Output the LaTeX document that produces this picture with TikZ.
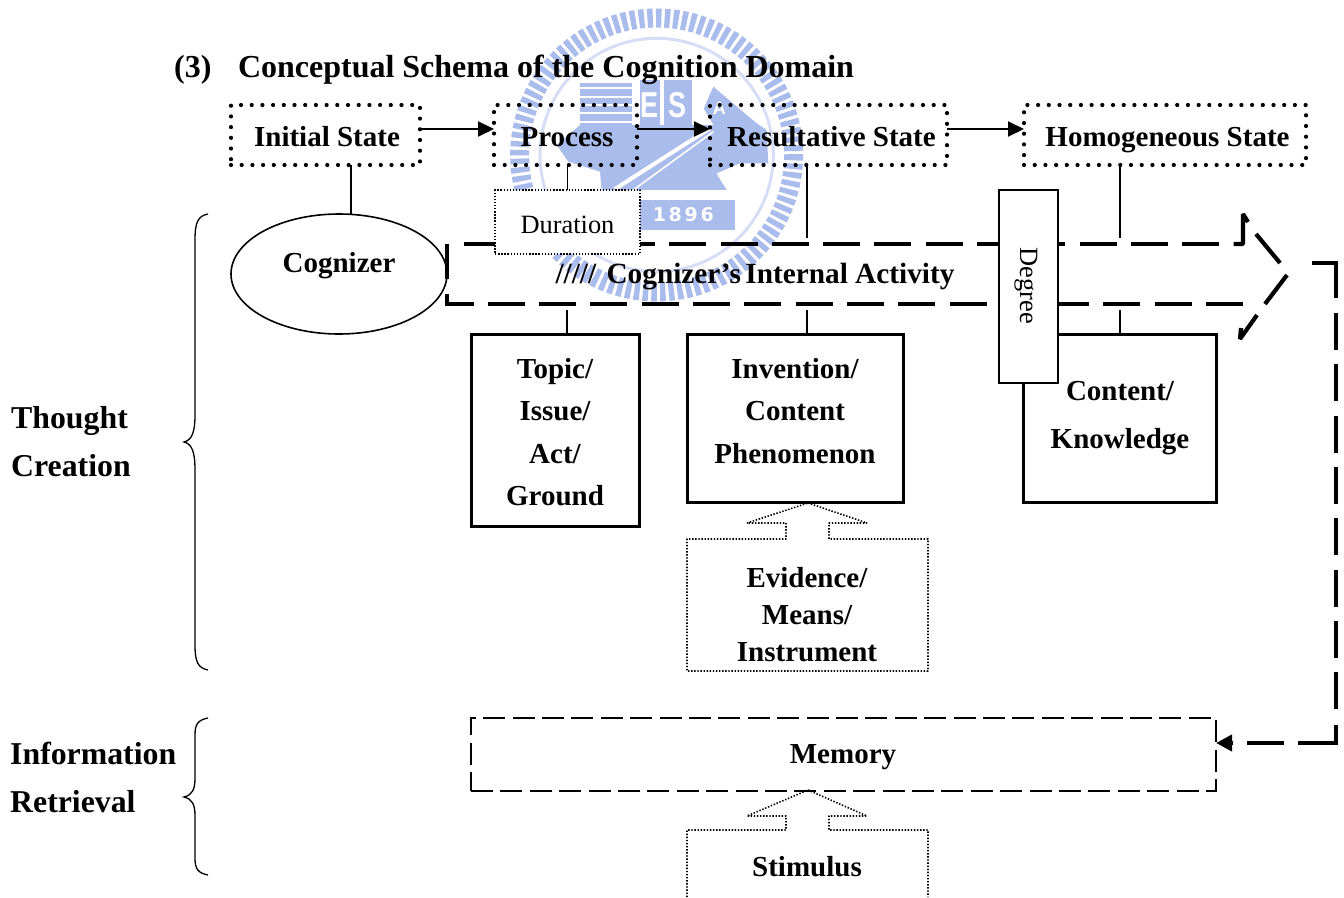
\documentclass[tikz,border=0pt]{standalone}
\usepackage{fontspec}
\setmainfont{Liberation Serif}
\newfontfamily\sealfont[BoldFont={* Bold}]{Liberation Sans}
\newfontfamily\sealdigits[LetterSpace=14]{DejaVu Sans Bold}
\usetikzlibrary{arrows.meta,shapes.geometric}
\definecolor{seal}{RGB}{170,188,236}
\definecolor{seallight}{RGB}{214,222,245}
\tikzset{
  btext/.style={font=\fontsize{29}{42.5}\selectfont\bfseries,inner sep=0pt,align=center},
  bigtext/.style={font=\fontsize{31.8}{48}\selectfont\bfseries,inner sep=0pt,align=left,anchor=west},
  rtext/.style={font=\fontsize{26.4}{30}\selectfont,inner sep=0pt},
  dotbox/.style={draw,line width=4.2pt,dash pattern=on 0pt off 10.7pt,line cap=round,minimum width=#1,minimum height=60pt,inner sep=0pt,outer sep=0pt,text height=22pt,text depth=0pt},
  solidbox/.style={draw,line width=3pt,inner sep=0pt,outer sep=0pt},
  thin dots/.style={line width=1.6pt,dash pattern=on 1.4pt off 1.7pt,line join=bevel},
  thick dash/.style={line width=4.2pt,dash pattern=on 37pt off 14.3pt},
  thick solid/.style={line width=4.2pt,line join=bevel},
  thinline/.style={line width=1.3pt},
  flow/.style={line width=2pt,-{Triangle[length=16pt,width=15pt]}},
}
\begin{document}
\begin{tikzpicture}[x=1pt,y=-1pt]
\useasboundingbox (0,0) rectangle (1344,897);
% watermark seal
\begin{scope}[x=0.3333pt,y=-0.3333pt,shift={(440pt,0pt)}]
  \draw[seal,line width=19pt,dash pattern=on 5.4pt off 3.2pt] (650,465) circle (411);
  \draw[seallight,line width=3pt] (650,465) circle (350);
  \fill[seal] (420,375) -- (350,435) -- (385,485) -- (480,515) -- (485,570) -- (860,570) -- (835,530) -- (830,520) -- (900,490) -- (985,490) -- (980,390) -- (950,370) -- (820,260) -- (770,375) -- cycle;
  \fill[seal] (420,250) rectangle (575,380);
  \foreach \yy in {265,290,315,340,365} \draw[white,line width=2pt] (420,\yy) -- (575,\yy);
  \fill[seal] (575,375) rectangle (775,400);
  \fill[seal] (600,240) rectangle (660,380);
  \fill[seal] (672,240) rectangle (755,380);
  \fill[white] (770,290) -- (820,375) -- (760,375) -- cycle;
  \node[white,font=\sealfont\bfseries\fontsize{36}{36}\selectfont,inner sep=0pt,xscale=.75] (sealE) at (630,315) {E};
  \node[white,font=\sealfont\bfseries\fontsize{36}{36}\selectfont,inner sep=0pt,xscale=.75] (sealS) at (713,315) {S};
  \node[white,font=\sealfont\bfseries\fontsize{18}{18}\selectfont,inner sep=0pt] (sealA) at (838,325) {A};
  \draw[white,line width=4pt] (525,567) -- (810,385);
  \draw[white,line width=1.6pt] (580,570) -- (820,395);
  \fill[seal] (600,600) rectangle (885,690);
  \node[white,font=\sealdigits\fontsize{19}{19}\selectfont,inner sep=0pt] (sealY) at (730,645) {1896};
\end{scope}
% title
\node[bigtext,font=\fontsize{32}{48}\selectfont\bfseries] (title) at (174,70) {(3)\hspace{26.5pt}Conceptual Schema of the Cognition Domain};
% top states
\node[dotbox=189pt,btext] (init) at (325.5,135) {\hspace*{3pt}Initial State};
\node[dotbox=143pt,btext] (proc) at (565.5,135) {\hspace*{3pt}Process};
\node[dotbox=237pt,btext] (res) at (828.5,135) {\hspace*{6pt}Resultative State};
\node[dotbox=282pt,btext] (homo) at (1165,135) {\hspace*{5pt}Homogeneous State};
\draw[flow] ([yshift=6pt]init.east) -- ([yshift=6pt]proc.west);
\draw[flow] ([yshift=6pt]proc.east) -- ([yshift=6pt]res.west);
\draw[flow] ([yshift=6pt]res.east) -- ([yshift=6pt]homo.west);
% cognizer
\node[draw,ellipse,line width=1.6pt,minimum width=216pt,minimum height=120pt,inner sep=0pt,outer sep=0pt] (cog) at (339,274) {};
\node[btext] (cogt) at (339,266) {Cognizer};
% big arrow, drawn piece by piece to keep the dashes where the original has them
\coordinate (ar1) at (464,244);
\coordinate (ar2) at (1230,244);
\coordinate (ar3) at (1233.5,244);
\coordinate (ar4) at (1243,244);
\coordinate (ar5) at (1243,214);
\coordinate (ar6) at (1248,222);
\coordinate (ar7) at (1256,234);
\coordinate (ar8) at (1280,263);
\coordinate (ar9) at (1287,275);
\coordinate (ar10) at (1265,304);
\coordinate (ar11) at (1257,315);
\coordinate (ar12) at (1240,339);
\coordinate (ar13) at (1241,328);
\coordinate (ar14) at (1243,304);
\coordinate (ar15) at (447,304);
\coordinate (ar16) at (447,244);
\draw[thick dash] (ar1) -- (ar2);
\draw[thick solid] (ar3) -- (ar4) -- (ar5) -- (ar6);
\draw[thick solid] (ar7) -- (ar8);
\draw[thick solid] (ar9) -- (ar10);
\draw[thick solid] (ar11) -- (ar12) -- (ar13);
\draw[thick dash] (ar14) -- (ar15) -- (ar16);
\node[btext,font=\fontsize{29.3}{36}\selectfont\bfseries] (act) at (755,277) {/////\hspace{3pt} Cognizer’s\hspace{-3pt} Internal Activity};
% lower boxes
\node[solidbox,minimum width=168pt,minimum height=192pt] (topic) at (555,430) {};
\node[btext] (topict) at (555,432) {Topic/\\Issue/\\Act/\\Ground};
\node[solidbox,minimum width=216pt,minimum height=168pt] (inv) at (795,418) {};
\node[btext] (invt) at (795,411) {Invention/\\Content\\Phenomenon};
\node[solidbox,minimum width=193pt,minimum height=168pt] (cont) at (1119.5,418) {};
\node[btext,font=\fontsize{29}{48}\selectfont\bfseries] (contt) at (1120,418) {Content/\\Knowledge};
% connectors
\coordinate (c0) at (351,214);
\coordinate (a1) at (807,238);
\coordinate (a2) at (1120,238);
\coordinate (b1) at (567,310);
\coordinate (b2) at (807,310);
\coordinate (b3) at (1120,310);
\draw[thinline] (init.south -| c0) -- (c0);
\node[draw,fill=white,thin dots,minimum width=145pt,minimum height=64pt,inner sep=0pt,outer sep=0pt,rtext,text height=22pt,text depth=0pt] (dur) at (567.5,222) {Duration};
\draw[thinline] (proc.south -| dur.north) -- (dur.north);
\draw[thinline] (res.south -| a1) -- (a1);
\draw[thinline] (homo.south -| a2) -- (a2);
\draw[thinline] (b1) -- (topic.north -| b1);
\draw[thinline] (b2) -- (inv.north -| b2);
\draw[thinline] (b3) -- (cont.north -| b3);
\node[draw,fill=white,line width=1.6pt,minimum width=59pt,minimum height=193pt,inner sep=0pt,outer sep=0pt] (deg) at (1028.5,286.5) {};
\node[rtext,rotate=-90] (degt) at (1026,286) {Degree};
% evidence arrow box
\draw[thin dots] (808,503) -- (867,523) -- (829,523) -- (829,539) -- (928,539) -- (928,671) -- (687,671) -- (687,539) -- (786,539) -- (786,523) -- (747,523) -- cycle;
\node[btext,font=\fontsize{29}{37}\selectfont\bfseries] (evid) at (807,615) {Evidence/\\Means/\\Instrument};
% memory
\node[draw,line width=2pt,dash pattern=on 22pt off 7.4pt,minimum width=745pt,minimum height=73pt,inner sep=0pt,outer sep=0pt] (mem) at (843.5,754.5) {};
\node[btext] (memt) at (843,757) {Memory};
% feedback connector
\coordinate (fb1) at (1312,263);
\coordinate (fb2) at (1336,263);
\coordinate (fb3) at (1336,298);
\coordinate (fb4) at (1336,313);
\coordinate (fb5) at (1336,710);
\coordinate (fb6) at (1336,725);
\coordinate (fb7) at (1336,743);
\coordinate (fb8) at (1298,743);
\coordinate (fb9) at (1284,743);
\coordinate (fb10) at (1247,743);
\coordinate (fb11) at (1233,743);
\draw[line width=4.2pt] (fb1) -- (fb2) -- (fb3);
\draw[thick dash] (fb4) -- (fb5);
\draw[line width=4.2pt] (fb6) -- (fb7) -- (fb8);
\draw[thick solid] (fb9) -- (fb10);
\draw[thick solid,-{Triangle[length=16pt,width=16pt]}] (fb11) -- (mem.east |- fb11);
% stimulus
\draw[thin dots] (687,897) -- (687,830) -- (786,830) -- (786,816) -- (747,816) -- (808,790) -- (867,816) -- (829,816) -- (829,830) -- (928,830) -- (928,897);
\node[btext] (stim) at (807,867) {Stimulus};
% side labels
\node[bigtext] (tc) at (11,442) {Thought\\Creation};
\node[bigtext] (ir) at (10,777) {Information\\Retrieval};
% braces
\coordinate (bt1) at (208,214);
\coordinate (bt2) at (208,670);
\coordinate (bt3) at (208,718);
\coordinate (bt4) at (208,875);
\draw[thinline] (bt1) .. controls (198,216) and (195,222) .. (195,240) -- (195,415) .. controls (195,432) and (192,440) .. (184,442) .. controls (192,444) and (195,452) .. (195,470) -- (195,645) .. controls (195,662) and (198,668) .. (bt2);
\draw[thinline] (bt3) .. controls (198,720) and (195,724) .. (195,735) -- (195,778) .. controls (195,790) and (192,795) .. (184,797) .. controls (192,799) and (195,804) .. (195,816) -- (195,858) .. controls (195,869) and (198,873) .. (bt4);
\end{tikzpicture}
\end{document}
